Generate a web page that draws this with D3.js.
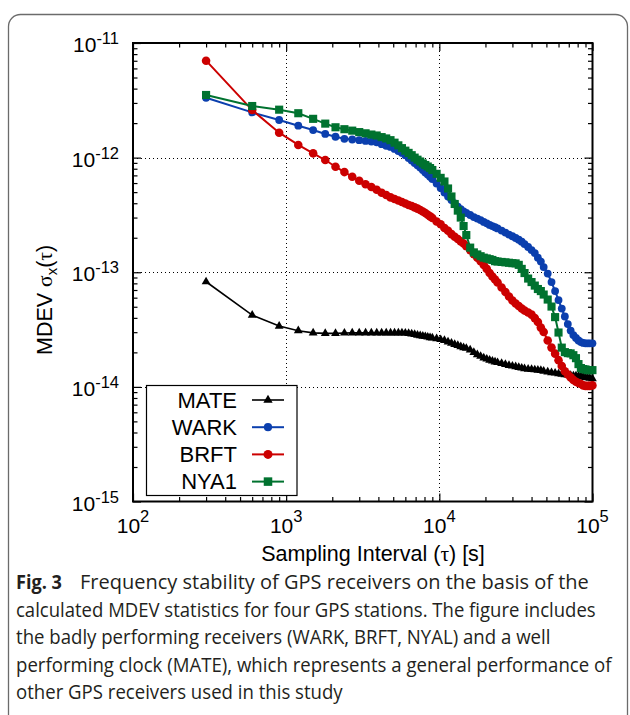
<!DOCTYPE html>
<html><head><meta charset="utf-8">
<script src="https://cdn.jsdelivr.net/npm/d3@7/dist/d3.min.js"></script>
<style>
html,body{margin:0;padding:0;background:#fff;}
svg{display:block;}
</style></head><body>
<svg id="chart" width="630" height="715"></svg>
<script>
// ---------- data (MDEV values in units of 1e-14) ----------
const UNIT = 1e-14;
const taus = [300,600,900,1200,1500,1800,2100,2400,2700,3000,
  3300,3600,3900,4200,4500,4800,5100,5400,5700,6000,
  6300,6600,6900,7200,7500,7800,8100,8400,8700,9000,
  9600,10200,10800,11400,12000,12600,13200,13800,14400,15000,
  15900,16800,17700,18600,19500,20400,21300,22200,23100,24000,
  25500,27000,28500,30000,31500,33000,34500,36000,38000,40000,
  42000,44000,46000,48000,51000,54000,57000,60000,63000,66000,
  69000,72000,75000,78000,81000,84000,87000,90000,93000,96000,
  99900];
const mate = [8.26,4.23,3.39,3.09,2.96,2.93,2.93,2.95,2.96,2.96,
  2.96,2.96,2.96,2.96,2.96,2.96,2.96,2.96,2.96,2.95,
  2.93,2.90,2.87,2.83,2.80,2.77,2.75,2.72,2.69,2.67,
  2.63,2.59,2.54,2.47,2.41,2.35,2.30,2.24,2.20,2.17,
  2.10,2.00,1.91,1.85,1.79,1.75,1.71,1.68,1.65,1.63,
  1.60,1.57,1.54,1.52,1.50,1.48,1.46,1.44,1.43,1.42,
  1.41,1.40,1.39,1.37,1.35,1.33,1.32,1.30,1.29,1.28,
  1.27,1.26,1.25,1.25,1.24,1.24,1.22,1.21,1.20,1.19,
  1.18];
const wark = [333,248,213,190,174,161,152,146,144,142,
  140,138,136,131,127,124,119,114,110,105,
  99.2,94.3,89.7,85.8,81.9,78.0,74.1,71.2,68.1,65.1,
  59.4,54.3,49.6,45.8,42.7,39.8,37.4,35.6,33.9,32.9,
  31.6,30.3,29.4,28.5,27.5,26.7,25.9,25.3,24.7,24.1,
  23.1,22.2,21.3,20.6,19.9,19.2,18.5,17.6,16.6,15.6,
  14.7,13.4,12.4,11.1,9.74,8.21,6.85,5.72,4.82,4.11,
  3.53,3.10,2.83,2.67,2.54,2.46,2.42,2.40,2.40,2.40,
  2.40];
const brft = [701,260,165,129,109,95.3,83.3,74.8,68.1,62.9,
  58.5,55.4,52.4,49.4,47.2,45.0,43.5,42.2,41.0,39.8,
  38.6,37.8,36.8,35.9,34.9,33.9,32.9,31.7,30.7,29.7,
  27.7,26.2,24.3,23.0,21.5,20.4,19.5,18.6,17.8,16.9,
  15.6,14.4,13.4,12.5,11.6,10.7,9.84,9.17,8.64,8.13,
  7.35,6.72,6.14,5.66,5.33,5.07,4.82,4.63,4.45,4.27,
  3.98,3.68,3.29,3.01,2.54,2.20,1.95,1.71,1.52,1.37,
  1.28,1.21,1.15,1.11,1.08,1.06,1.03,1.02,1.02,1.02,
  1.03];
const nya1 = [352,282,262,244,218,198,184,177,172,167,
  163,159,156,151,147,142,135,128,121,115,
  110,105,100,95.9,92.5,89.0,86.2,83.6,81.1,78.0,
  72.2,66.6,61.9,53.8,45.8,39.4,34.5,30.0,25.3,21.1,
  16.4,14.9,14.3,13.8,13.4,13.2,13.0,12.8,12.5,12.4,
  12.3,12.2,12.1,12.0,11.95,11.6,10.7,9.84,8.81,8.21,
  7.65,7.14,6.85,6.39,5.78,5.02,4.06,2.98,2.20,2.01,
  1.97,1.96,1.89,1.78,1.58,1.46,1.43,1.42,1.40,1.40,
  1.40];
const seriesNames = ["MATE","WARK","BRFT","NYA1"];
const seriesColors = ["#000000","#0b3fae","#cc0000","#00722f"];
const xTickExps = [2,3,4,5];
const yTickExps = [-11,-12,-13,-14,-15];
const xLabelText = ["Sampling Interval (", "τ", ") [s]"];
const captionBold = "Fig. 3";
const captionLines = [
  "Frequency stability of GPS receivers on the basis of the",
  "calculated MDEV statistics for four GPS stations. The figure includes",
  "the badly performing receivers (WARK, BRFT, NYAL) and a well",
  "performing clock (MATE), which represents a general performance of",
  "other GPS receivers used in this study"
];

// ---------- layout ----------
const L = 133, R = 592.5, T = 43, B = 501.5;
const FONT = "'Liberation Sans', Arial, Helvetica, sans-serif";
const SERIF = "'Liberation Serif', 'DejaVu Serif', serif";
const svg = d3.select("#chart");
const x = d3.scaleLog().domain([1e2, 1e5]).range([L, R]);
const y = d3.scaleLog().domain([1e-15, 1e-11]).range([B, T]);

// outer rounded frame
svg.append("rect").attr("x", 8.5).attr("y", 14.5).attr("width", 619).attr("height", 720)
  .attr("rx", 12).attr("fill", "none").attr("stroke", "#6b6b6b").attr("stroke-width", 1.3);

// grid
const xMajor = xTickExps.map(e => Math.pow(10, e));
const yMajor = yTickExps.map(e => Math.pow(10, e));
const grid = svg.append("g").attr("stroke", "#000").attr("stroke-width", 1).attr("stroke-dasharray", "1,3");
grid.selectAll(".gx").data(xMajor.slice(1, -1)).join("line")
  .attr("x1", d => Math.round(x(d)) + 0.5).attr("x2", d => Math.round(x(d)) + 0.5)
  .attr("y1", T).attr("y2", B);
grid.selectAll(".gy").data(yMajor.slice(1, -1)).join("line")
  .attr("y1", d => Math.round(y(d)) + 0.5).attr("y2", d => Math.round(y(d)) + 0.5)
  .attr("x1", L).attr("x2", R);

// minor tick values
const xMinor = [], yMinor = [];
for (let e = 2; e < 5; e++) for (let k = 2; k <= 9; k++) xMinor.push(k * Math.pow(10, e));
for (let e = -15; e < -11; e++) for (let k = 2; k <= 9; k++) yMinor.push(k * Math.pow(10, e));

function tickAxis(axisFn, scale, vals, size, transform) {
  const g = svg.append("g").attr("transform", transform)
    .call(axisFn(scale).tickValues(vals).tickSize(-size).tickFormat(""));
  g.select(".domain").remove();
  g.selectAll("line").attr("stroke", "#000").attr("stroke-width", 1.2);
}
tickAxis(d3.axisBottom, x, xMajor, 8, `translate(0,${B})`);
tickAxis(d3.axisBottom, x, xMinor, 4.5, `translate(0,${B})`);
tickAxis(d3.axisTop, x, xMajor, 8, `translate(0,${T})`);
tickAxis(d3.axisTop, x, xMinor, 4.5, `translate(0,${T})`);
tickAxis(d3.axisLeft, y, yMajor, 8, `translate(${L},0)`);
tickAxis(d3.axisLeft, y, yMinor, 4.5, `translate(${L},0)`);
tickAxis(d3.axisRight, y, yMajor, 8, `translate(${R},0)`);
tickAxis(d3.axisRight, y, yMinor, 4.5, `translate(${R},0)`);

// plot border
svg.append("rect").attr("x", L).attr("y", T).attr("width", R - L).attr("height", B - T)
  .attr("fill", "none").attr("stroke", "#000").attr("stroke-width", 2);

// tick labels
xTickExps.forEach(e => {
  const t = svg.append("text").attr("x", x(Math.pow(10, e))).attr("y", 533)
    .attr("text-anchor", "middle").attr("font-family", FONT).attr("font-size", 21).attr("fill", "#000");
  t.append("tspan").text("10");
  t.append("tspan").attr("dy", -11).attr("font-size", 16.5).text(String(e));
});
yTickExps.forEach(e => {
  const t = svg.append("text").attr("x", 119).attr("y", y(Math.pow(10, e)) + 9)
    .attr("text-anchor", "end").attr("font-family", FONT).attr("font-size", 21).attr("fill", "#000");
  t.append("tspan").text("10");
  t.append("tspan").attr("dy", -8).attr("font-size", 16.5).text(String(e));
});

// axis titles
const xt = svg.append("text").attr("x", 373).attr("y", 561).attr("text-anchor", "middle")
  .attr("font-family", FONT).attr("font-size", 21.5).attr("fill", "#000");
xt.append("tspan").text(xLabelText[0]);
xt.append("tspan").attr("font-family", SERIF).text(xLabelText[1]);
xt.append("tspan").text(xLabelText[2]);

const yt = svg.append("text").attr("transform", "translate(52,355) rotate(-90)")
  .attr("font-family", FONT).attr("font-size", 21.5).attr("fill", "#000");
yt.append("tspan").text("MDEV ");
yt.append("tspan").attr("font-family", SERIF).text("σ");
yt.append("tspan").attr("font-size", 15).attr("dy", 5).text("x");
yt.append("tspan").attr("dy", -5).text("(");
yt.append("tspan").attr("font-family", SERIF).text("τ");
yt.append("tspan").text(")");

// series
const seriesData = [mate, wark, brft, nya1];
const symbolTypes = [d3.symbolTriangle, d3.symbolCircle, d3.symbolCircle, d3.symbolSquare];
const symbolSizes = [34, 48, 58, 66];
const lineWidths = [1.6, 2, 2, 2];
const plot = svg.append("g");
seriesData.forEach((vals, si) => {
  const pts = vals.map((v, i) => [x(taus[i]), y(v * UNIT)]);
  const g = plot.append("g");
  g.append("path").datum(pts).attr("d", d3.line())
    .attr("fill", "none").attr("stroke", seriesColors[si]).attr("stroke-width", lineWidths[si]);
  const sym = d3.symbol().type(symbolTypes[si]).size(symbolSizes[si]);
  g.selectAll("path.m").data(pts).join("path").attr("class", "m")
    .attr("transform", d => `translate(${d[0]},${d[1]})`)
    .attr("d", sym).attr("fill", seriesColors[si]);
});

// legend
const lg = svg.append("g");
lg.append("rect").attr("x", 146.5).attr("y", 385.5).attr("width", 150.5).attr("height", 110)
  .attr("fill", "#fff").attr("stroke", "#000").attr("stroke-width", 1.2);
seriesNames.forEach((name, i) => {
  const cy = 400 + i * 27.2;
  lg.append("text").attr("x", 237).attr("y", cy + 7.8).attr("text-anchor", "end")
    .attr("font-family", FONT).attr("font-size", 22).attr("fill", "#000").text(name);
  lg.append("line").attr("x1", 252).attr("x2", 284).attr("y1", cy).attr("y2", cy)
    .attr("stroke", seriesColors[i]).attr("stroke-width", lineWidths[i]);
  lg.append("path").attr("transform", `translate(268,${cy})`)
    .attr("d", d3.symbol().type(symbolTypes[i]).size(symbolSizes[i] * 1.1)).attr("fill", seriesColors[i]);
});

// caption (condensed by horizontal scaling to the measured line widths)
const CAP = "'Open Sans', 'Noto Sans', sans-serif";
const capBase = [589, 616.5, 644, 671.5, 699];
const capStart = [80, 16, 16, 16, 16];
const capEnd = [589, 596, 551, 612, 343];
function fitText(sel, x0, y0, width) {
  const w = sel.node().getComputedTextLength();
  const k = w > 0 ? width / w : 1;
  sel.attr("x", 0).attr("y", 0).attr("transform", `translate(${x0},${y0}) scale(${k},1)`);
}
const figLabel = svg.append("text").attr("font-family", CAP).attr("font-weight", "bold")
  .attr("font-size", 20).attr("fill", "#231f20").text(captionBold);
fitText(figLabel, 16, capBase[0], 46);
captionLines.forEach((s, i) => {
  const t = svg.append("text").attr("font-family", CAP)
    .attr("font-size", 20).attr("fill", "#231f20").text(s);
  fitText(t, capStart[i], capBase[i], capEnd[i] - capStart[i]);
});
</script>
</body></html>
